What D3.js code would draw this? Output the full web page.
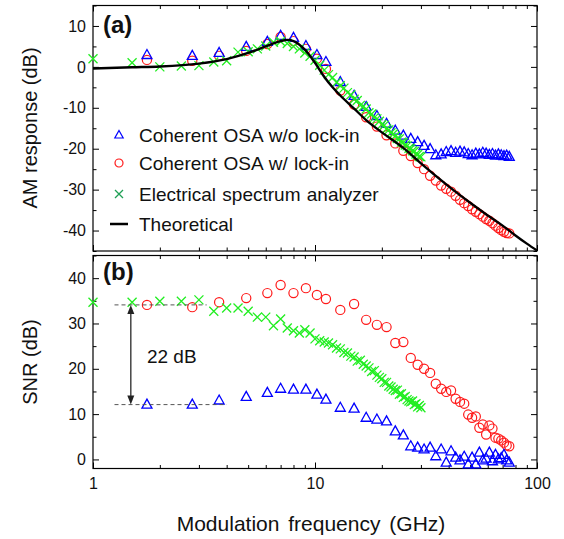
<!DOCTYPE html>
<html>
<head>
<meta charset="utf-8">
<script src="https://cdn.jsdelivr.net/npm/d3@7"></script>
<style>
  body { margin: 0; background: #fff; }
  svg text { font-family: "Liberation Sans", Arial, sans-serif; fill: #111; }
</style>
</head>
<body>
<div id="chart"></div>
<script>
// ---- data ----
// coherent OSA measurement frequencies (GHz), shared by both OSA series
const osaFreq = [1.75, 2.8, 3.7, 4.9, 6.1, 7, 8, 9.1, 10.2, 11.2,
  13, 15, 17, 19, 21, 23, 25, 27, 29, 31, 33, 35, 37, 39, 41, 43, 45, 47,
  49, 51, 53, 55, 57, 59, 61, 63, 65, 67, 69, 71, 73, 75];

// (a) AM response, dB
const osaNoLockAM = [2.9, 2.7, 3.4, 4.9, 6.1, 7.6, 7.1, 5.1, 2.9, 1.2,
  -3.7, -7.1, -9.8, -12.0, -13.9, -15.6, -16.8, -17.6, -18.4, -19.3, -20.1, -21.6,
  -21.4, -20.8, -20.6, -21.0, -20.7, -20.9, -21.3, -21.6, -21.2, -21.4, -21.0, -21.2,
  -21.5, -21.3, -21.7, -21.4, -21.6, -21.8, -21.7, -22.0];
const osaLockAM = [1.7, 1.5, 2.7, 3.9, 5.6, 7.3, 6.3, 4.4, 2.0, -0.5,
  -5.8, -9.2, -12.3, -14.6, -16.7, -18.7, -20.5, -21.8, -23.5, -25.0, -26.6, -27.8,
  -29.0, -29.8, -30.5, -31.5, -32.5, -33.3, -34.0, -34.8, -35.4, -36.0, -36.6, -37.2,
  -37.6, -38.2, -38.8, -39.4, -39.9, -40.3, -40.6, -40.7];

// (b) SNR, dB
const osaNoLockSNR = [12.1, 12.1, 13.0, 13.8, 14.7, 15.6, 15.4, 15.4, 14.3, 13.2,
  11.4, 11.2, 9.2, 8.8, 8.4, 6.2, 5.3, 2.9, 2.6, 2.2, 2.6, 0.7, 2.2, -0.7, 1.8, 0.4,
  -0.2, 0.6, -1.1, 0.4, -1.1, 1.5, -0.2, 0.2, 1.5, -0.4, 1.0, 0, 0.3, 1.0, -0.2, -0.7];
const osaLockSNR = [34.1, 33.6, 34.7, 35.6, 36.7, 38.5, 36.7, 37.8, 36.3, 35.4,
  33.0, 34.3, 30.8, 29.7, 29.2, 25.7, 25.9, 22.4, 20.9, 20.0, 19.1, 16.7, 15.6, 14.9,
  15.2, 13.4, 12.7, 12.3, 9.9, 9.2, 9.5, 7.0, 7.7, 5.5, 7.5, 6.8, 4.8, 4.6, 4.2, 3.7,
  3.1, 2.9];

// electrical spectrum analyzer frequencies (GHz)
const esaFreq = [1, 1.5, 2, 2.5, 3, 3.5, 4, 4.5, 5, 5.5, 6, 6.5, 7, 7.5, 8, 8.5, 9,
  9.5, 10, 10.5, 11, 11.5, 12, 12.5, 13, 13.5, 14, 14.5, 15, 15.5, 16, 16.5, 17,
  17.5, 18, 18.5, 19, 19.5, 20, 20.5, 21, 21.5, 22, 22.5, 23, 23.5, 24, 24.5, 25,
  25.5, 26, 26.5, 27, 27.5, 28, 28.5, 29, 29.5, 30];
const esaAM = [2.0, 1.0, 0.0, 0.2, 0.3, 1.2, 1.5, 3.6, 3.7, 4.4, 5.1, 6.0, 6.2, 5.7,
  5.0, 4.4, 3.4, 2.6, 1.6, 0.4, -0.8, -1.9, -2.6, -3.8, -4.6, -5.2, -6.3, -6.8, -7.9,
  -8.2, -9.4, -9.7, -10.3, -11.2, -11.5, -12.4, -12.7, -13.3, -14.1, -14.3, -15.2,
  -15.4, -16.1, -16.4, -16.9, -17.5, -17.6, -18.4, -18.5, -19.1, -19.3, -19.9, -20.0,
  -20.5, -20.7, -21.3, -21.4, -21.9, -22.0];
const esaSNR = [34.7, 34.7, 34.9, 34.9, 35.2, 32.7, 33.4, 33.4, 32.7, 31.4, 31.4,
  29.5, 31.0, 29.0, 28.4, 27.9, 28.6, 27.9, 26.6, 26.2, 25.9, 25.7, 25.3, 24.6, 24.4,
  23.6, 23.5, 22.8, 22.6, 21.7, 21.9, 21.0, 20.6, 20.2, 19.4, 19.6, 18.6, 18.1, 17.8,
  17.0, 17.0, 16.2, 16.0, 15.5, 15.2, 15.3, 14.4, 14.5, 13.7, 13.9, 13.2, 12.9, 12.7,
  12.9, 12.1, 12.3, 11.6, 11.9, 11.4];

// theoretical curve
const theoFreq = [1, 1.5, 2, 3, 4, 5, 6, 7, 7.5, 8, 9, 10, 11, 12, 13, 15, 17, 20, 25,
  30, 40, 50, 60, 70, 80, 90, 100];
const theoAM = [-0.4, -0.1, 0.1, 0.8, 1.9, 3.4, 5.0, 6.3, 6.6, 6.3, 4.2, 1.0, -2.4,
  -5.0, -7.0, -10.2, -13.0, -16.0, -19.8, -23.6, -29.2, -33.2, -36.3, -38.8, -41.2,
  -43.2, -44.9];

const xMajor = [1, 10, 100];
const xMinor = [2, 3, 4, 5, 6, 7, 8, 9, 20, 30, 40, 50, 60, 70, 80, 90];
const yMajorA = [-40, -30, -20, -10, 0, 10];
const yMinorA = [-45, -35, -25, -15, -5, 5, 15];
const yMajorB = [0, 10, 20, 30, 40];
const yMinorB = [5, 15, 25, 35, 45];

const legendNames = ["Coherent OSA w/o lock-in", "Coherent OSA w/ lock-in",
  "Electrical spectrum analyzer", "Theoretical"];

const blue = "#0000ff", red = "#ff1a1a", green = "#22ee22";

// ---- drawing ----
const width = 564, height = 539;
const svg = d3.select("#chart").append("svg")
  .attr("width", width).attr("height", height);

const x = d3.scaleLog().domain([1, 100]).range([93, 537]);
const yA = d3.scaleLinear().domain([-45, 15]).range([251, 5.5]);
const yB = d3.scaleLinear().domain([-2, 45]).range([468.5, 255.5]);

function styleAxis(g) {
  g.select(".domain").remove();
  g.attr("font-family", null).attr("font-size", 16);
}

function panel(y, yMajor, yMinor, xLabels) {
  const g = svg.append("g");
  const [yb, yt] = y.range();
  const [xl, xr] = x.range();
  const fmt = d => String(d);

  g.append("g").attr("transform", `translate(0,${yb})`)
    .call(d3.axisBottom(x).tickValues(xMajor).tickSizeInner(-6).tickSizeOuter(0)
      .tickPadding(9).tickFormat(xLabels ? fmt : () => ""))
    .call(styleAxis);
  g.append("g").attr("transform", `translate(0,${yb})`)
    .call(d3.axisBottom(x).tickValues(xMinor).tickSizeInner(-3.5).tickSizeOuter(0).tickFormat(""))
    .call(styleAxis);
  g.append("g").attr("transform", `translate(0,${yt})`)
    .call(d3.axisTop(x).tickValues(xMajor).tickSizeInner(-6).tickSizeOuter(0).tickFormat(""))
    .call(styleAxis);
  g.append("g").attr("transform", `translate(0,${yt})`)
    .call(d3.axisTop(x).tickValues(xMinor).tickSizeInner(-3.5).tickSizeOuter(0).tickFormat(""))
    .call(styleAxis);

  g.append("g").attr("transform", `translate(${xl},0)`)
    .call(d3.axisLeft(y).tickValues(yMajor).tickSizeInner(-6).tickSizeOuter(0)
      .tickPadding(7).tickFormat(fmt))
    .call(styleAxis);
  g.append("g").attr("transform", `translate(${xl},0)`)
    .call(d3.axisLeft(y).tickValues(yMinor).tickSizeInner(-3.5).tickSizeOuter(0).tickFormat(""))
    .call(styleAxis);
  g.append("g").attr("transform", `translate(${xr},0)`)
    .call(d3.axisRight(y).tickValues(yMajor).tickSizeInner(-6).tickSizeOuter(0).tickFormat(""))
    .call(styleAxis);
  g.append("g").attr("transform", `translate(${xr},0)`)
    .call(d3.axisRight(y).tickValues(yMinor).tickSizeInner(-3.5).tickSizeOuter(0).tickFormat(""))
    .call(styleAxis);

  g.append("rect")
    .attr("x", xl).attr("y", yt)
    .attr("width", xr - xl).attr("height", yb - yt)
    .attr("fill", "none").attr("stroke", "#000").attr("stroke-width", 1.2);
  return g;
}

const triPath = "M0,-5.5L5,3.5L-5,3.5Z";

function drawTriangles(g, xs, ys, y) {
  g.append("g").selectAll("path").data(xs).enter().append("path")
    .attr("d", triPath)
    .attr("transform", (d, i) => `translate(${x(d)},${y(ys[i])})`)
    .attr("fill", "none").attr("stroke", blue).attr("stroke-width", 1.3);
}
function drawCircles(g, xs, ys, y) {
  g.append("g").selectAll("circle").data(xs).enter().append("circle")
    .attr("cx", d => x(d)).attr("cy", (d, i) => y(ys[i])).attr("r", 4.6)
    .attr("fill", "none").attr("stroke", red).attr("stroke-width", 1.2);
}
function drawCrosses(g, xs, ys, y) {
  g.append("g").selectAll("path").data(xs).enter().append("path")
    .attr("d", "M-4.5,-4.5L4.5,4.5M-4.5,4.5L4.5,-4.5")
    .attr("transform", (d, i) => `translate(${x(d)},${y(ys[i])})`)
    .attr("fill", "none").attr("stroke", green).attr("stroke-width", 1.3);
}

// panel (a)
const gA = panel(yA, yMajorA, yMinorA, false);
drawCircles(gA, osaFreq, osaLockAM, yA);
drawTriangles(gA, osaFreq, osaNoLockAM, yA);
drawCrosses(gA, esaFreq, esaAM, yA);

const theoLine = d3.line()
  .x(d => x(d[0])).y(d => yA(d[1]))
  .curve(d3.curveMonotoneX);
gA.append("path")
  .datum(theoFreq.map((f, i) => [f, theoAM[i]]))
  .attr("d", theoLine)
  .attr("fill", "none").attr("stroke", "#000").attr("stroke-width", 2.4);

// legend
const legend = gA.append("g").attr("transform", "translate(119,135)");
const rowY = [0, 28, 59, 89];
legend.append("path").attr("d", "M0,-4.5L4.2,3L-4.2,3Z")
  .attr("transform", `translate(0,${rowY[0]})`)
  .attr("fill", "none").attr("stroke", blue).attr("stroke-width", 1.2);
legend.append("circle").attr("cx", 0).attr("cy", rowY[1]).attr("r", 4)
  .attr("fill", "none").attr("stroke", red).attr("stroke-width", 1.2);
legend.append("path").attr("d", "M-4,-4L4,4M-4,4L4,-4")
  .attr("transform", `translate(0,${rowY[2]})`)
  .attr("fill", "none").attr("stroke", "#1fa055").attr("stroke-width", 1.3);
legend.append("line").attr("x1", -9).attr("x2", 9).attr("y1", rowY[3]).attr("y2", rowY[3])
  .attr("stroke", "#000").attr("stroke-width", 2.5);
legend.selectAll("text.leg").data(legendNames).enter().append("text")
  .attr("class", "leg")
  .attr("x", 20).attr("y", (d, i) => rowY[i]).attr("dy", "0.35em")
  .attr("font-size", 19).style("word-spacing", "1px")
  .text(d => d);

gA.append("text").attr("x", 103).attr("y", 33)
  .attr("font-size", 24).attr("font-weight", "bold").text("(a)");

// panel (b)
const gB = panel(yB, yMajorB, yMinorB, true);
drawCircles(gB, osaFreq, osaLockSNR, yB);
drawTriangles(gB, osaFreq, osaNoLockSNR, yB);
drawCrosses(gB, esaFreq, esaSNR, yB);

gB.append("text").attr("x", 103).attr("y", 280)
  .attr("font-size", 24).attr("font-weight", "bold").text("(b)");

// 22 dB annotation
const snrHigh = 34.1, snrLow = 12.1;
gB.append("line")
  .attr("x1", x(1.25)).attr("x2", x(3.25)).attr("y1", yB(snrHigh)).attr("y2", yB(snrHigh))
  .attr("stroke", "#555").attr("stroke-width", 1).attr("stroke-dasharray", "4,3");
gB.append("line")
  .attr("x1", x(1.25)).attr("x2", x(4.0)).attr("y1", yB(snrLow)).attr("y2", yB(snrLow))
  .attr("stroke", "#555").attr("stroke-width", 1).attr("stroke-dasharray", "4,3");

const ax = x(1.48), aTop = yB(snrHigh), aBot = yB(snrLow);
gB.append("line").attr("x1", ax).attr("x2", ax).attr("y1", aTop + 8).attr("y2", aBot - 8)
  .attr("stroke", "#444").attr("stroke-width", 1.5);
gB.append("path").attr("d", `M${ax},${aTop}L${ax - 3.5},${aTop + 9}L${ax + 3.5},${aTop + 9}Z`)
  .attr("fill", "#222");
gB.append("path").attr("d", `M${ax},${aBot}L${ax - 3.5},${aBot - 9}L${ax + 3.5},${aBot - 9}Z`)
  .attr("fill", "#222");
gB.append("text").attr("x", x(1.75)).attr("y", yB(22.8)).attr("dy", "0.35em")
  .attr("font-size", 19).text("22 dB");

// axis titles
svg.append("text")
  .attr("transform", "translate(37,128) rotate(-90)")
  .attr("text-anchor", "middle").attr("font-size", 20)
  .text("AM response (dB)");
svg.append("text")
  .attr("transform", "translate(37,362) rotate(-90)")
  .attr("text-anchor", "middle").attr("font-size", 20)
  .text("SNR (dB)");
svg.append("text")
  .attr("x", 311).attr("y", 531)
  .attr("text-anchor", "middle").attr("font-size", 21).style("word-spacing", "3px")
  .text("Modulation frequency (GHz)");
</script>
</body>
</html>
